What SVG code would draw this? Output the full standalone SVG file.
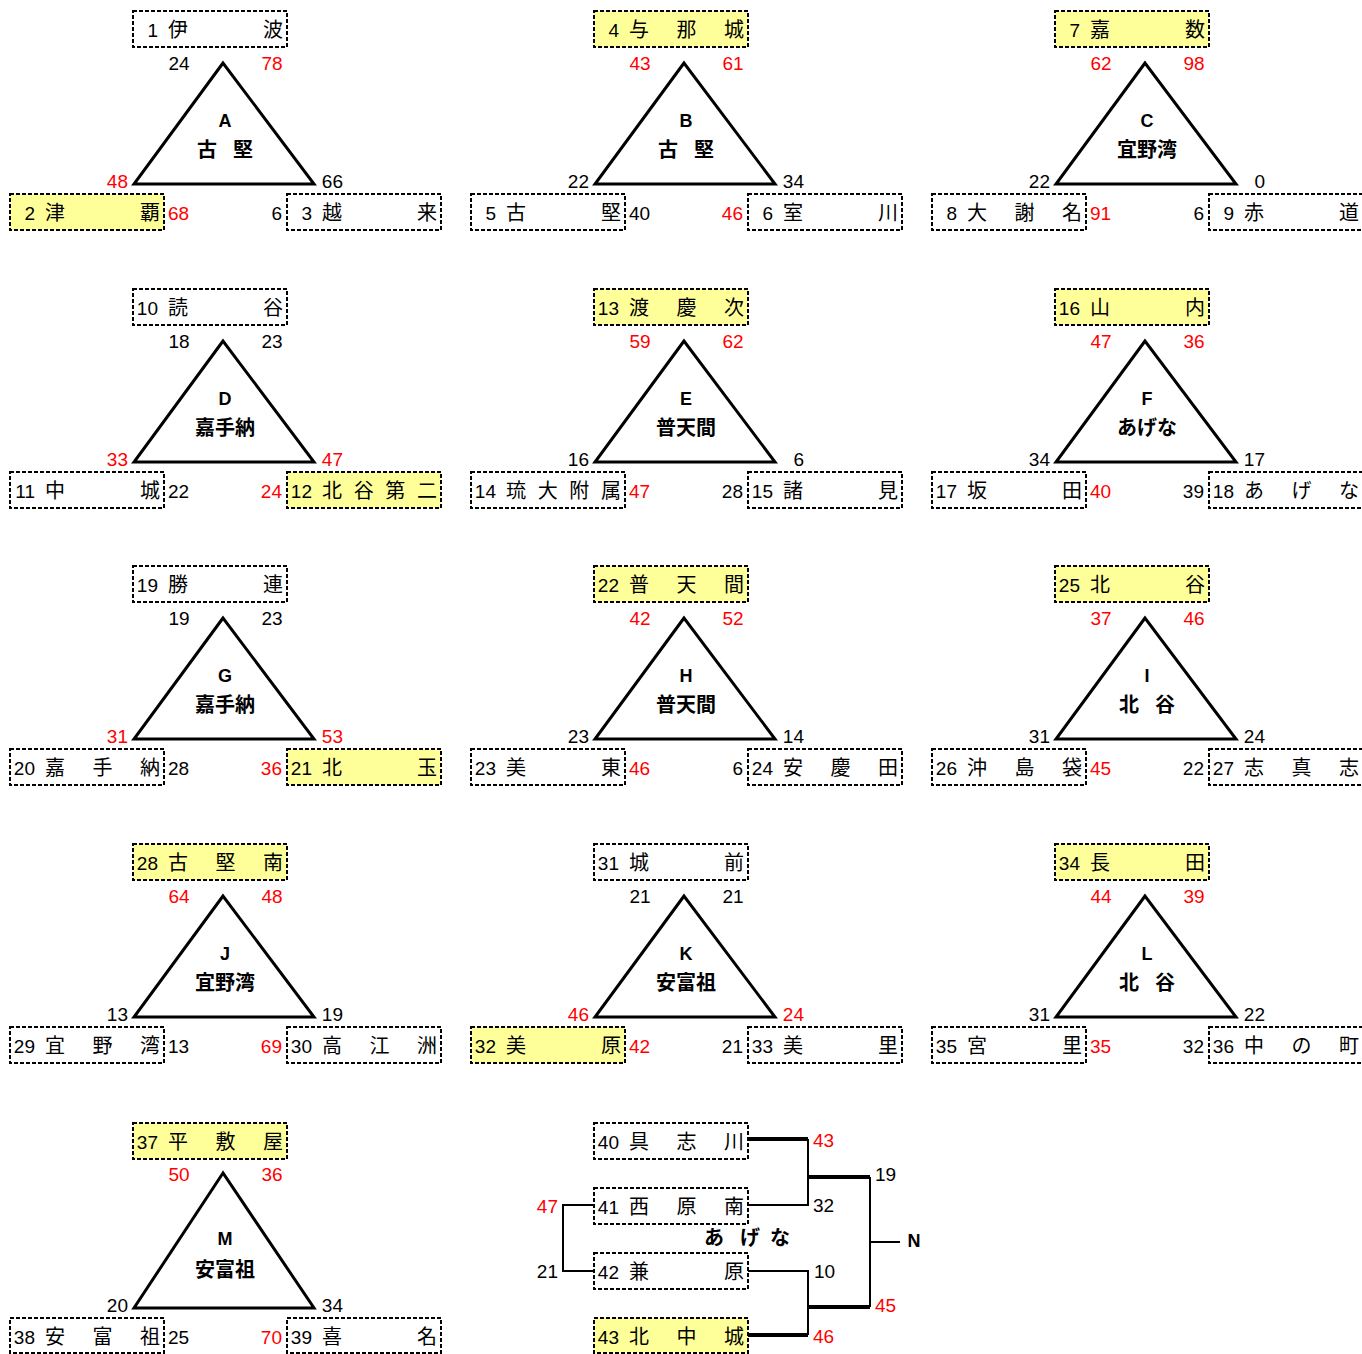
<svg xmlns="http://www.w3.org/2000/svg" xmlns:xlink="http://www.w3.org/1999/xlink" width="1362" height="1354" viewBox="0 0 1362 1354">
<style>
.bx{fill:#fff;stroke:#000;stroke-width:2;stroke-dasharray:4 2}
.y{fill:#ffff99}
.tri{fill:#fff;stroke:#000;stroke-width:3}
.n{font-family:"Liberation Sans",Arial,sans-serif;font-size:19px;fill:#000}
.e{text-anchor:end}
.m{text-anchor:middle}
.r{fill:#ff0000}
.j{font-family:"Noto Sans CJK JP","Noto Sans CJK SC",sans-serif;font-size:20px;text-anchor:middle;fill:#000}
.t{font-family:"Liberation Sans",Arial,sans-serif;font-weight:bold;font-size:18px;text-anchor:middle}
.tj{font-family:"Noto Sans CJK JP","Noto Sans CJK SC",sans-serif;font-weight:bold;font-size:20px;text-anchor:middle}
.thick{fill:none;stroke:#000;stroke-width:4}
.thin{fill:none;stroke:#000;stroke-width:2}
</style>
<defs>
<path id="tri" class="tri" d="M223,63 L134,184 L314,184 Z"/>
</defs>
<rect width="1362" height="1354" fill="#fff"/>

<g id="A" transform="translate(0,0)">
<rect class="bx" x="133" y="11" width="154" height="36"/>
<text class="n e" x="158" y="37">1</text><text class="j" x="178 273" y="37">伊波</text>
<use xlink:href="#tri"/>
<text class="n m" x="179" y="70">24</text><text class="n m r" x="272" y="70">78</text>
<text class="n e r" x="128" y="188">48</text><text class="n e" x="343" y="188">66</text>
<rect class="bx y" x="10" y="194" width="154" height="36"/>
<text class="n e" x="35" y="220">2</text><text class="j" x="55 150" y="220">津覇</text>
<text class="n r" x="168" y="220">68</text>
<text class="n e" x="282" y="220">6</text>
<rect class="bx" x="287" y="194" width="154" height="36"/>
<text class="n e" x="312" y="220">3</text><text class="j" x="332 427" y="220">越来</text>
<text class="t" x="225" y="127">A</text><text class="tj" x="207 243" y="157">古堅</text>
</g>

<g id="B" transform="translate(461,0)">
<rect class="bx y" x="133" y="11" width="154" height="36"/>
<text class="n e" x="158" y="37">4</text><text class="j" x="178 225.5 273" y="37">与那城</text>
<use xlink:href="#tri"/>
<text class="n m r" x="179" y="70">43</text><text class="n m r" x="272" y="70">61</text>
<text class="n e" x="128" y="188">22</text><text class="n e" x="343" y="188">34</text>
<rect class="bx" x="10" y="194" width="154" height="36"/>
<text class="n e" x="35" y="220">5</text><text class="j" x="55 150" y="220">古堅</text>
<text class="n" x="168" y="220">40</text>
<text class="n e r" x="282" y="220">46</text>
<rect class="bx" x="287" y="194" width="154" height="36"/>
<text class="n e" x="312" y="220">6</text><text class="j" x="332 427" y="220">室川</text>
<text class="t" x="225" y="127">B</text><text class="tj" x="207 243" y="157">古堅</text>
</g>

<g id="C" transform="translate(922,0)">
<rect class="bx y" x="133" y="11" width="154" height="36"/>
<text class="n e" x="158" y="37">7</text><text class="j" x="178 273" y="37">嘉数</text>
<use xlink:href="#tri"/>
<text class="n m r" x="179" y="70">62</text><text class="n m r" x="272" y="70">98</text>
<text class="n e" x="128" y="188">22</text><text class="n e" x="343" y="188">0</text>
<rect class="bx" x="10" y="194" width="154" height="36"/>
<text class="n e" x="35" y="220">8</text><text class="j" x="55 102.5 150" y="220">大謝名</text>
<text class="n r" x="168" y="220">91</text>
<text class="n e" x="282" y="220">6</text>
<rect class="bx" x="287" y="194" width="154" height="36"/>
<text class="n e" x="312" y="220">9</text><text class="j" x="332 427" y="220">赤道</text>
<text class="t" x="225" y="127">C</text><text class="tj" x="225" y="157">宜野湾</text>
</g>

<g id="D" transform="translate(0,278)">
<rect class="bx" x="133" y="11" width="154" height="36"/>
<text class="n e" x="158" y="37">10</text><text class="j" x="178 273" y="37">読谷</text>
<use xlink:href="#tri"/>
<text class="n m" x="179" y="70">18</text><text class="n m" x="272" y="70">23</text>
<text class="n e r" x="128" y="188">33</text><text class="n e r" x="343" y="188">47</text>
<rect class="bx" x="10" y="194" width="154" height="36"/>
<text class="n e" x="35" y="220">11</text><text class="j" x="55 150" y="220">中城</text>
<text class="n" x="168" y="220">22</text>
<text class="n e r" x="282" y="220">24</text>
<rect class="bx y" x="287" y="194" width="154" height="36"/>
<text class="n e" x="312" y="220">12</text><text class="j" x="332 363.7 395.3 427" y="220">北谷第二</text>
<text class="t" x="225" y="127">D</text><text class="tj" x="225" y="157">嘉手納</text>
</g>

<g id="E" transform="translate(461,278)">
<rect class="bx y" x="133" y="11" width="154" height="36"/>
<text class="n e" x="158" y="37">13</text><text class="j" x="178 225.5 273" y="37">渡慶次</text>
<use xlink:href="#tri"/>
<text class="n m r" x="179" y="70">59</text><text class="n m r" x="272" y="70">62</text>
<text class="n e" x="128" y="188">16</text><text class="n e" x="343" y="188">6</text>
<rect class="bx" x="10" y="194" width="154" height="36"/>
<text class="n e" x="35" y="220">14</text><text class="j" x="55 86.7 118.3 150" y="220">琉大附属</text>
<text class="n r" x="168" y="220">47</text>
<text class="n e" x="282" y="220">28</text>
<rect class="bx" x="287" y="194" width="154" height="36"/>
<text class="n e" x="312" y="220">15</text><text class="j" x="332 427" y="220">諸見</text>
<text class="t" x="225" y="127">E</text><text class="tj" x="225" y="157">普天間</text>
</g>

<g id="F" transform="translate(922,278)">
<rect class="bx y" x="133" y="11" width="154" height="36"/>
<text class="n e" x="158" y="37">16</text><text class="j" x="178 273" y="37">山内</text>
<use xlink:href="#tri"/>
<text class="n m r" x="179" y="70">47</text><text class="n m r" x="272" y="70">36</text>
<text class="n e" x="128" y="188">34</text><text class="n e" x="343" y="188">17</text>
<rect class="bx" x="10" y="194" width="154" height="36"/>
<text class="n e" x="35" y="220">17</text><text class="j" x="55 150" y="220">坂田</text>
<text class="n r" x="168" y="220">40</text>
<text class="n e" x="282" y="220">39</text>
<rect class="bx" x="287" y="194" width="154" height="36"/>
<text class="n e" x="312" y="220">18</text><text class="j" x="332 379.5 427" y="220">あげな</text>
<text class="t" x="225" y="127">F</text><text class="tj" x="225" y="157">あげな</text>
</g>

<g id="G" transform="translate(0,555)">
<rect class="bx" x="133" y="11" width="154" height="36"/>
<text class="n e" x="158" y="37">19</text><text class="j" x="178 273" y="37">勝連</text>
<use xlink:href="#tri"/>
<text class="n m" x="179" y="70">19</text><text class="n m" x="272" y="70">23</text>
<text class="n e r" x="128" y="188">31</text><text class="n e r" x="343" y="188">53</text>
<rect class="bx" x="10" y="194" width="154" height="36"/>
<text class="n e" x="35" y="220">20</text><text class="j" x="55 102.5 150" y="220">嘉手納</text>
<text class="n" x="168" y="220">28</text>
<text class="n e r" x="282" y="220">36</text>
<rect class="bx y" x="287" y="194" width="154" height="36"/>
<text class="n e" x="312" y="220">21</text><text class="j" x="332 427" y="220">北玉</text>
<text class="t" x="225" y="127">G</text><text class="tj" x="225" y="157">嘉手納</text>
</g>

<g id="H" transform="translate(461,555)">
<rect class="bx y" x="133" y="11" width="154" height="36"/>
<text class="n e" x="158" y="37">22</text><text class="j" x="178 225.5 273" y="37">普天間</text>
<use xlink:href="#tri"/>
<text class="n m r" x="179" y="70">42</text><text class="n m r" x="272" y="70">52</text>
<text class="n e" x="128" y="188">23</text><text class="n e" x="343" y="188">14</text>
<rect class="bx" x="10" y="194" width="154" height="36"/>
<text class="n e" x="35" y="220">23</text><text class="j" x="55 150" y="220">美東</text>
<text class="n r" x="168" y="220">46</text>
<text class="n e" x="282" y="220">6</text>
<rect class="bx" x="287" y="194" width="154" height="36"/>
<text class="n e" x="312" y="220">24</text><text class="j" x="332 379.5 427" y="220">安慶田</text>
<text class="t" x="225" y="127">H</text><text class="tj" x="225" y="157">普天間</text>
</g>

<g id="I" transform="translate(922,555)">
<rect class="bx y" x="133" y="11" width="154" height="36"/>
<text class="n e" x="158" y="37">25</text><text class="j" x="178 273" y="37">北谷</text>
<use xlink:href="#tri"/>
<text class="n m r" x="179" y="70">37</text><text class="n m r" x="272" y="70">46</text>
<text class="n e" x="128" y="188">31</text><text class="n e" x="343" y="188">24</text>
<rect class="bx" x="10" y="194" width="154" height="36"/>
<text class="n e" x="35" y="220">26</text><text class="j" x="55 102.5 150" y="220">沖島袋</text>
<text class="n r" x="168" y="220">45</text>
<text class="n e" x="282" y="220">22</text>
<rect class="bx" x="287" y="194" width="154" height="36"/>
<text class="n e" x="312" y="220">27</text><text class="j" x="332 379.5 427" y="220">志真志</text>
<text class="t" x="225" y="127">I</text><text class="tj" x="207 243" y="157">北谷</text>
</g>

<g id="J" transform="translate(0,833)">
<rect class="bx y" x="133" y="11" width="154" height="36"/>
<text class="n e" x="158" y="37">28</text><text class="j" x="178 225.5 273" y="37">古堅南</text>
<use xlink:href="#tri"/>
<text class="n m r" x="179" y="70">64</text><text class="n m r" x="272" y="70">48</text>
<text class="n e" x="128" y="188">13</text><text class="n e" x="343" y="188">19</text>
<rect class="bx" x="10" y="194" width="154" height="36"/>
<text class="n e" x="35" y="220">29</text><text class="j" x="55 102.5 150" y="220">宜野湾</text>
<text class="n" x="168" y="220">13</text>
<text class="n e r" x="282" y="220">69</text>
<rect class="bx" x="287" y="194" width="154" height="36"/>
<text class="n e" x="312" y="220">30</text><text class="j" x="332 379.5 427" y="220">高江洲</text>
<text class="t" x="225" y="127">J</text><text class="tj" x="225" y="157">宜野湾</text>
</g>

<g id="K" transform="translate(461,833)">
<rect class="bx" x="133" y="11" width="154" height="36"/>
<text class="n e" x="158" y="37">31</text><text class="j" x="178 273" y="37">城前</text>
<use xlink:href="#tri"/>
<text class="n m" x="179" y="70">21</text><text class="n m" x="272" y="70">21</text>
<text class="n e r" x="128" y="188">46</text><text class="n e r" x="343" y="188">24</text>
<rect class="bx y" x="10" y="194" width="154" height="36"/>
<text class="n e" x="35" y="220">32</text><text class="j" x="55 150" y="220">美原</text>
<text class="n r" x="168" y="220">42</text>
<text class="n e" x="282" y="220">21</text>
<rect class="bx" x="287" y="194" width="154" height="36"/>
<text class="n e" x="312" y="220">33</text><text class="j" x="332 427" y="220">美里</text>
<text class="t" x="225" y="127">K</text><text class="tj" x="225" y="157">安富祖</text>
</g>

<g id="L" transform="translate(922,833)">
<rect class="bx y" x="133" y="11" width="154" height="36"/>
<text class="n e" x="158" y="37">34</text><text class="j" x="178 273" y="37">長田</text>
<use xlink:href="#tri"/>
<text class="n m r" x="179" y="70">44</text><text class="n m r" x="272" y="70">39</text>
<text class="n e" x="128" y="188">31</text><text class="n e" x="343" y="188">22</text>
<rect class="bx" x="10" y="194" width="154" height="36"/>
<text class="n e" x="35" y="220">35</text><text class="j" x="55 150" y="220">宮里</text>
<text class="n r" x="168" y="220">35</text>
<text class="n e" x="282" y="220">32</text>
<rect class="bx" x="287" y="194" width="154" height="36"/>
<text class="n e" x="312" y="220">36</text><text class="j" x="332 379.5 427" y="220">中の町</text>
<text class="t" x="225" y="127">L</text><text class="tj" x="207 243" y="157">北谷</text>
</g>

<g id="M">
<rect class="bx y" x="133" y="1123" width="154" height="36"/>
<text class="n e" x="158" y="1149">37</text><text class="j" x="178 225.5 273" y="1149">平敷屋</text>
<path class="tri" d="M223,1173 L134,1308 L314,1308 Z"/>
<text class="n m r" x="179" y="1181">50</text><text class="n m r" x="272" y="1181">36</text>
<text class="n e" x="128" y="1312">20</text><text class="n e" x="343" y="1312">34</text>
<rect class="bx" x="10" y="1318" width="154" height="35"/>
<text class="n e" x="35" y="1344">38</text><text class="j" x="55 102.5 150" y="1344">安富祖</text>
<text class="n" x="168" y="1344">25</text>
<text class="n e r" x="282" y="1344">70</text>
<rect class="bx" x="287" y="1318" width="154" height="35"/>
<text class="n e" x="312" y="1344">39</text><text class="j" x="332 427" y="1344">喜名</text>
<text class="t" x="225" y="1245">M</text><text class="tj" x="225" y="1277">安富祖</text>
</g>

<g id="connectors">
<path class="thick" d="M748,1139 H808 M808,1177 H870 M808,1307 H870 M748,1335 H808"/>
<path class="thin" d="M808,1139 V1205 H748 M870,1177 V1307 M870,1242 H900 M748,1271 H808 V1335 M594,1205 H563 V1271 H594"/>
</g>

<g id="N">
<rect class="bx" x="594" y="1123" width="154" height="36"/>
<text class="n e" x="619" y="1149">40</text><text class="j" x="639 686.5 734" y="1149">具志川</text>
<rect class="bx" x="594" y="1188" width="154" height="36"/>
<text class="n e" x="619" y="1214">41</text><text class="j" x="639 686.5 734" y="1214">西原南</text>
<rect class="bx" x="594" y="1253" width="154" height="36"/>
<text class="n e" x="619" y="1279">42</text><text class="j" x="639 734" y="1279">兼原</text>
<rect class="bx y" x="594" y="1318" width="154" height="35"/>
<text class="n e" x="619" y="1344">43</text><text class="j" x="639 686.5 734" y="1344">北中城</text>
<text class="n r" x="813" y="1147">43</text>
<text class="n" x="813" y="1212">32</text>
<text class="n" x="814" y="1278">10</text>
<text class="n r" x="813" y="1343">46</text>
<text class="n" x="875" y="1181">19</text>
<text class="n r" x="875" y="1312">45</text>
<text class="n e r" x="558" y="1213">47</text>
<text class="n e" x="558" y="1278">21</text>
<text class="t" x="914" y="1247">N</text>
<text class="tj" x="714 750 780" y="1245">あげな</text>
</g>
</svg>
